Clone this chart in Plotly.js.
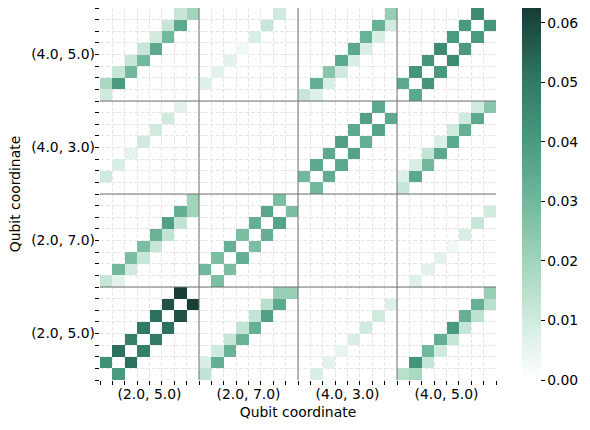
<!DOCTYPE html>
<html>
<head>
<meta charset="utf-8">
<script src="https://cdn.plot.ly/plotly-3.0.1.min.js"></script>
<style>html,body{margin:0;padding:0;background:#fff;}#chart{width:590px;height:430px;}</style>
</head>
<body>
<div id="chart"></div>
<script>
// Qubit coordinate blocks (each block = 8 sub-cells)
const blockLabels = ['(2.0, 5.0)', '(2.0, 7.0)', '(4.0, 3.0)', '(4.0, 5.0)'];

// Rows listed bottom -> top; each row = 32 columns (4 blocks x 8)
const rowsY25 = [
  [0,.040,0,0,0,0,0,0,  .013,0,0,0,0,0,0,0,  0,.008,0,0,0,0,0,0,  .015,.018,0,0,0,0,0,0],
  [.043,0,.052,0,0,0,0,0,  .008,.033,0,0,0,0,0,0,  0,0,.006,0,0,0,0,0,  0,.042,.012,0,0,0,0,0],
  [0,.052,0,.048,0,0,0,0,  0,.010,.032,0,0,0,0,0,  0,0,0,.005,0,0,0,0,  0,0,.030,.010,0,0,0,0],
  [0,0,.048,0,.050,0,0,0,  0,0,.012,.032,0,0,0,0,  0,0,0,0,.008,0,0,0,  0,0,0,.033,.012,0,0,0],
  [0,0,0,.050,0,.052,0,0,  0,0,0,.013,.033,0,0,0,  0,0,0,0,0,.010,0,0,  0,0,0,0,.040,.012,0,0],
  [0,0,0,0,.052,0,.058,0,  0,0,0,0,.013,.038,0,0,  0,0,0,0,0,0,.010,0,  0,0,0,0,0,.033,.014,0],
  [0,0,0,0,0,.058,0,.062,  0,0,0,0,0,.015,.035,0,  0,0,0,0,0,0,0,.007,  0,0,0,0,0,0,.033,.015],
  [0,0,0,0,0,0,.062,0,  0,0,0,0,0,0,.022,.022,  0,0,0,0,0,0,0,0,  0,0,0,0,0,0,0,.022]
];
const rowsY27 = [
  [.012,.006,0,0,0,0,0,0,  0,.028,0,0,0,0,0,0,  0,0,0,0,0,0,0,0,  0,.007,0,0,0,0,0,0],
  [0,.030,.010,0,0,0,0,0,  .030,0,.028,0,0,0,0,0,  0,0,0,0,0,0,0,0,  0,0,.006,0,0,0,0,0],
  [0,0,.028,.012,0,0,0,0,  0,.028,0,.033,0,0,0,0,  0,0,0,0,0,0,0,0,  0,0,0,.006,0,0,0,0],
  [0,0,0,.028,.012,0,0,0,  0,0,.033,0,.028,0,0,0,  0,0,0,0,0,0,0,0,  0,0,0,0,.003,0,0,0],
  [0,0,0,0,.032,.013,0,0,  0,0,0,.028,0,.033,0,0,  0,0,0,0,0,0,0,0,  0,0,0,0,0,.008,0,0],
  [0,0,0,0,0,.038,.013,0,  0,0,0,0,.033,0,.037,0,  0,0,0,0,0,0,0,0,  0,0,0,0,0,0,.012,0],
  [0,0,0,0,0,0,.033,.020,  0,0,0,0,0,.036,0,.028,  0,0,0,0,0,0,0,0,  0,0,0,0,0,0,0,.010],
  [0,0,0,0,0,0,0,.020,  0,0,0,0,0,0,.028,0,  0,0,0,0,0,0,0,0,  0,0,0,0,0,0,0,0]
];
const rowsY43 = [
  [0,0,0,0,0,0,0,0,  0,0,0,0,0,0,0,0,  0,.030,0,0,0,0,0,0,  .012,0,0,0,0,0,0,0],
  [.010,0,0,0,0,0,0,0,  0,0,0,0,0,0,0,0,  .030,0,.034,0,0,0,0,0,  .007,.035,0,0,0,0,0,0],
  [0,.008,0,0,0,0,0,0,  0,0,0,0,0,0,0,0,  0,.035,0,.035,0,0,0,0,  0,.008,.030,0,0,0,0,0],
  [0,0,.006,0,0,0,0,0,  0,0,0,0,0,0,0,0,  0,0,.035,0,.037,0,0,0,  0,0,.013,.035,0,0,0,0],
  [0,0,0,.010,0,0,0,0,  0,0,0,0,0,0,0,0,  0,0,0,.038,0,.033,0,0,  0,0,0,.008,.035,0,0,0],
  [0,0,0,0,.010,0,0,0,  0,0,0,0,0,0,0,0,  0,0,0,0,.035,0,.037,0,  0,0,0,0,.010,.033,0,0],
  [0,0,0,0,0,.010,0,0,  0,0,0,0,0,0,0,0,  0,0,0,0,0,.038,0,.035,  0,0,0,0,0,.010,.035,0],
  [0,0,0,0,0,0,.006,0,  0,0,0,0,0,0,0,0,  0,0,0,0,0,0,.035,0,  0,0,0,0,0,0,.010,.025]
];
const rowsY45 = [
  [.010,0,0,0,0,0,0,0,  0,0,0,0,0,0,0,0,  .012,.007,0,0,0,0,0,0,  0,.035,0,0,0,0,0,0],
  [.018,.040,0,0,0,0,0,0,  .007,0,0,0,0,0,0,0,  0,.033,.008,0,0,0,0,0,  .035,0,.042,0,0,0,0,0],
  [0,.012,.030,0,0,0,0,0,  0,.006,0,0,0,0,0,0,  0,0,.025,.010,0,0,0,0,  0,.042,0,.040,0,0,0,0],
  [0,0,.012,.030,0,0,0,0,  0,0,.006,0,0,0,0,0,  0,0,0,.035,.008,0,0,0,  0,0,.042,0,.045,0,0,0],
  [0,0,0,.012,.035,0,0,0,  0,0,0,.003,0,0,0,0,  0,0,0,0,.035,.008,0,0,  0,0,0,.045,0,.040,0,0],
  [0,0,0,0,.010,.030,0,0,  0,0,0,0,.008,0,0,0,  0,0,0,0,0,.032,.008,0,  0,0,0,0,.040,0,.040,0],
  [0,0,0,0,0,.012,.035,0,  0,0,0,0,0,.012,0,0,  0,0,0,0,0,0,.032,.010,  0,0,0,0,0,.040,0,.042],
  [0,0,0,0,0,0,.012,.020,  0,0,0,0,0,0,.010,0,  0,0,0,0,0,0,0,.022,  0,0,0,0,0,0,.045,0]
];

const allRows = rowsY25.concat(rowsY27, rowsY43, rowsY45);
const zData = allRows.map(r => r.map(v => v === 0 ? null : v));
const idx = Array.from({length: 32}, (_, i) => i);

const colorscale = [
  [0.0, '#ffffff'],
  [0.16, '#d0ebde'],
  [0.32, '#a1d4bb'],
  [0.48, '#71b89c'],
  [0.64, '#4a9a80'],
  [0.8, '#317a65'],
  [1.0, '#163c35']
];

const font = {family: 'DejaVu Sans', size: 13.9, color: '#000'};
const blockCenters = [3.5, 11.5, 19.5, 27.5];
const minorVals = Array.from({length: 33}, (_, i) => i - 0.5);

const shapes = [];
[7.5, 15.5, 23.5].forEach(b => {
  shapes.push({type: 'line', xref: 'x', yref: 'paper', x0: b, x1: b, y0: 0, y1: 1, line: {color: '#707070', width: 1}, layer: 'above'});
  shapes.push({type: 'line', xref: 'paper', yref: 'y', x0: 0, x1: 1, y0: b, y1: b, line: {color: '#707070', width: 1}, layer: 'above'});
});

const axisCommon = {
  tickvals: blockCenters,
  ticktext: blockLabels,
  ticks: '',
  showgrid: false,
  zeroline: false,
  showline: false,
  range: [-0.5, 31.5],
  tickfont: font,
  automargin: false,
  minor: {tickvals: minorVals, ticks: 'outside', ticklen: 4, tickwidth: 1, tickcolor: '#000', showgrid: true, gridcolor: '#e6e6e6', gridwidth: 1, griddash: '4px,1.8px'}
};

const trace = {
  type: 'heatmap',
  x: idx, y: idx, z: zData,
  zmin: 0, zmax: 0.0625,
  colorscale: colorscale,
  hoverongaps: false,
  colorbar: {
    x: 1.066, xanchor: 'left', y: 0.5, yanchor: 'middle', len: 1, lenmode: 'fraction',
    thickness: 19, outlinewidth: 0, xpad: 0, ypad: 0,
    tickvals: [0, 0.01, 0.02, 0.03, 0.04, 0.05, 0.06],
    ticktext: ['0.00', '0.01', '0.02', '0.03', '0.04', '0.05', '0.06'],
    ticks: 'outside', ticklen: 4, tickcolor: '#000',
    tickfont: font
  }
};

const layout = {
  width: 590, height: 430,
  margin: {l: 100, r: 94, t: 8, b: 50, autoexpand: false},
  paper_bgcolor: '#fff', plot_bgcolor: '#fff',
  font: font,
  xaxis: Object.assign({}, axisCommon, {title: {text: 'Qubit coordinate', font: font, standoff: 6}, ticklabelstandoff: 4}),
  yaxis: Object.assign({}, axisCommon, {title: {text: 'Qubit coordinate', font: font, standoff: 7}, ticklabelstandoff: 4}),
  shapes: shapes,
  showlegend: false
};

Plotly.newPlot('chart', [trace], layout, {displayModeBar: false, staticPlot: true});
</script>
</body>
</html>
